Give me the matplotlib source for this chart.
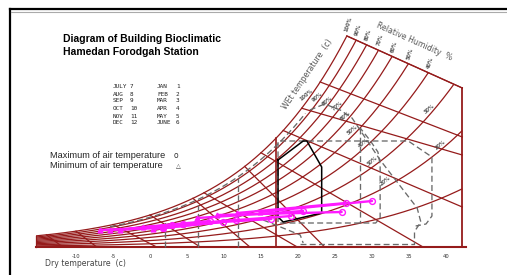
import numpy as np
import matplotlib
matplotlib.use("Agg")
import matplotlib.pyplot as plt

# ---------------- data ----------------
rh_levels = [1.0, 0.9, 0.8, 0.7, 0.6, 0.5, 0.4, 0.3, 0.2, 0.1]
rh_top_labels = ["100%", "90%", "80%", "70%", "60%", "50%", "40%"]
rh_diag_levels = [1.0, 0.9, 0.8, 0.7, 0.6, 0.5, 0.4, 0.3, 0.2, 0.3, 0.2]
rh_diag_T = [21.2, 22.6, 23.9, 25.3, 26.4, 27.4, 28.8, 30.1, 31.8, 37.8, 39.2]

x_ticks = [-10, -5, 0, 5, 10, 15, 20, 25, 30, 35, 40]

# wet-bulb style lines: start temperature on saturation curve, end point
wb_start_T = [26.6, 23.0, 20.5, 18.0, 15.0, 12.8, 7.3, 5.8, 0.0, -5.0, -10.0, -14.0]
wb_end_T = [42.2, 42.2, 42.2, 42.2, 36.9, 23.6, 19.9, 13.5, 6.8, 0.9, -7.2, -11.8]
wb_end_h = [15.9, 11.0, 9.2, 4.0, 0.0, 0.0, 0.0, 0.0, 0.0, 0.0, 0.0, 0.0]

# comfort zone (black polygon)  (dry temp, humidity)
comfort_T = [17.3, 20.7, 21.2, 23.2, 23.2, 18.0, 17.3, 17.3]
comfort_h = [8.7, 10.6, 10.6, 8.0, 3.4, 2.5, 3.0, 8.7]

# grey dashed zones
zone1_T = [17.3, 17.3, 34.9, 38.1, 38.1, 37.3, 35.9]
zone1_h = [2.5, 10.6, 10.6, 9.0, 3.1, 2.3, 2.1]
zone1b_T = [20.3, 35.7, 35.7]
zone1b_h = [0.27, 0.27, 1.5]
zone2_T = [28.4, 28.4]
zone2_h = [11.9, 2.4]
zone2b_T = [17.6, 30.5, 31.1, 31.1, 30.8, 29.7, 28.4]
zone2b_h = [2.4, 2.4, 2.9, 8.2, 9.5, 10.7, 11.9]
zone3_T = [21.6, 23.6, 25.7, 27.3, 31.1, 36.1, 36.6, 35.7]
zone3_h = [13.7, 14.3, 13.7, 12.9, 8.7, 3.9, 2.5, 1.5]
zone4_T = [15.3, 20.3, 20.7]
zone4_h = [2.7, 1.2, 0.4]
zone_vert_T = [2.0, 6.5, 11.9]
zone_vert_h = [2.7, 4.2, 6.9]
zone_curve_rh = 0.93
zone_curve_T = [-5.4, 21.0]

# monthly data: min point (triangle) and max point (circle)
months = ["JAN", "FEB", "MAR", "APR", "MAY", "JUNE", "JULY", "AUG", "SEP", "OCT", "NOV", "DEC"]
t_min = [-6.8, -5.4, -0.9, 1.8, 4.5, 9.1, 14.9, 11.8, 6.4, 3.0, 0.4, -4.1]
h_min = [1.7, 1.7, 2.0, 1.9, 2.3, 3.2, 3.5, 3.4, 2.9, 2.2, 1.8, 1.7]
t_max = [1.8, 3.0, 8.1, 11.6, 19.1, 25.9, 30.0, 26.5, 20.7, 16.4, 9.9, 4.5]
h_max = [1.9, 2.2, 2.6, 2.7, 3.1, 3.5, 4.6, 4.4, 3.6, 2.8, 2.5, 2.3]

# ---------------- figure ----------------
W, H = 507, 275
fig = plt.figure(figsize=(W / 100, H / 100), dpi=100)
ax = fig.add_axes([0, 0, 1, 1])
ax.set_xlim((0 - 150) / 7.4, (W - 150) / 7.4)
ax.set_ylim((247 - H) / 10, 247 / 10)
ax.axis("off")

RED = "#951b1b"
GREY = "#6a6a6a"
MAG = "#ff1aff"

T_LEFT, T_RIGHT, T_TOP, H_CORNER = -15.4, 42.2, 26.6, 15.9


def sat(T):
    return 0.3 + 2.9 * np.exp(0.0794 * np.asarray(T) - 0.0002 * np.asarray(T) ** 2)


def top(T):
    s = (H_CORNER - sat(T_TOP)) / (T_RIGHT - T_TOP)
    return sat(T_TOP) + s * (np.asarray(T) - T_TOP)


Tg = np.linspace(T_LEFT, T_RIGHT, 4000)
rh_end = {}
for phi in rh_levels:
    h = phi * sat(Tg)
    lim = np.where(Tg <= T_TOP, np.inf, top(Tg))
    m = h <= lim
    ax.plot(Tg[m], h[m], color=RED, lw=0.9, solid_capstyle="butt", zorder=3)
    rh_end[phi] = Tg[m][-1]

# boundaries
Tt = np.array([T_TOP, T_RIGHT])
ax.plot(Tt, top(Tt), color=RED, lw=0.9, zorder=3)
ax.plot([T_RIGHT, T_RIGHT], [0, H_CORNER], color=RED, lw=1.3, zorder=3)
ax.plot([T_LEFT, T_LEFT], [0, sat(T_LEFT)], color=RED, lw=0.9, zorder=3)
ax.plot([T_LEFT, 42.7], [0, 0], color=RED, lw=1.5, zorder=3)
ax.plot([17.0, 17.0], [0, sat(17.0)], color=RED, lw=1.2, zorder=3)

# wet-bulb lines
for t0, t1, h1 in zip(wb_start_T, wb_end_T, wb_end_h):
    ax.plot([t0, t1], [sat(t0), h1], color=RED, lw=0.9, zorder=3)

# grey dashed zones
dkw = dict(color=GREY, lw=0.95, dashes=(4.5, 2.5), zorder=4)
for xs, ys in [(zone1_T, zone1_h), (zone1b_T, zone1b_h), (zone2_T, zone2_h),
               (zone2b_T, zone2b_h), (zone3_T, zone3_h), (zone4_T, zone4_h)]:
    ax.plot(xs, ys, **dkw)
for t, h in zip(zone_vert_T, zone_vert_h):
    ax.plot([t, t], [0, h], **dkw)
Tz = np.linspace(zone_curve_T[0], zone_curve_T[1], 200)
ax.plot(Tz, zone_curve_rh * sat(Tz), **dkw)

# comfort zone
ax.plot(comfort_T, comfort_h, color="black", lw=1.1, zorder=5)

# monthly lines
for a, b, c, d in zip(t_min, h_min, t_max, h_max):
    ax.plot([a, c], [b, d], color=MAG, lw=1.7, zorder=6, solid_capstyle="round")
    ax.plot([c], [d], marker="o", ms=4.2, mfc="none", mec=MAG, mew=1.0, zorder=7)
    ax.plot([a], [b], marker="^", ms=3.5, mfc=MAG, mec=MAG, zorder=7)

# RH labels along top boundary
for phi, lab in zip(rh_levels, rh_top_labels):
    t = rh_end[phi]
    ax.annotate(lab, (t, top(t)), xytext=(1.5, 2.5), textcoords="offset points",
                rotation=72, fontsize=3.6, color="#555555", ha="center", va="bottom",
                fontweight="bold")
# RH labels inside the chart
for phi, t in zip(rh_diag_levels, rh_diag_T):
    ax.text(t, phi * sat(t), f"{int(round(phi * 100))}%", rotation=40, fontsize=3.6,
            color="#555555", ha="center", va="bottom", fontweight="bold", zorder=5)

# x tick labels
for t in x_ticks:
    ax.text(t, -1.0, str(t), fontsize=3.8, color="#333333", ha="center", va="center")


def fx(px):
    return px / W


def fy(py):
    return 1 - py / H


fig.text(fx(45), fy(263), "Dry temperature  (c)", fontsize=5.6, color="#444444",
         va="center", ha="left")
fig.text(fx(307), fy(74), "WEt temperature  (c)", fontsize=5.6, color="#555555",
         rotation=56, ha="center", va="center")
fig.text(fx(414), fy(42), "Relative Humidity  %", fontsize=5.6, color="#555555",
         rotation=-24, ha="center", va="center")

# title
fig.text(fx(63), fy(39), "Diagram of Building Bioclimatic", fontsize=7.5,
         fontweight="bold", family="Liberation Sans", va="center", ha="left")
fig.text(fx(63), fy(52), "Hamedan Forodgah Station", fontsize=7.5,
         fontweight="bold", family="Liberation Sans", va="center", ha="left")

# month key
rows_y = [87, 94, 101, 108, 116, 123]
for i, y in enumerate(rows_y):
    fig.text(fx(113), fy(y), months[6 + i], fontsize=4.3, family="DejaVu Sans Mono",
             va="center", ha="left", color="#222222")
    fig.text(fx(130), fy(y), str(7 + i), fontsize=4.3, family="DejaVu Sans Mono",
             va="center", ha="left", color="#222222")
    fig.text(fx(157), fy(y), months[i], fontsize=4.3, family="DejaVu Sans Mono",
             va="center", ha="left", color="#222222")
    fig.text(fx(176), fy(y), str(1 + i), fontsize=4.3, family="DejaVu Sans Mono",
             va="center", ha="left", color="#222222")

# legend
fig.text(fx(50), fy(155), "Maximum of air temperature", fontsize=6.6,
         family="Liberation Sans", va="center", ha="left", color="#222222")
fig.text(fx(50), fy(165.5), "Minimum of air temperature", fontsize=6.6,
         family="Liberation Sans", va="center", ha="left", color="#222222")
fig.text(fx(176), fy(155), "o", fontsize=5.5, va="center", ha="center", color="#333333")
fig.text(fx(178), fy(166), "\u25b3", fontsize=4.5, va="center", ha="center", color="#333333")

# frame
ax.plot([fx(10), fx(10)], [fy(9), 0], transform=ax.transAxes, color="black", lw=1.6,
        clip_on=False)
ax.plot([fx(10), 1], [fy(9), fy(9)], transform=ax.transAxes, color="black", lw=1.6,
        clip_on=False)
ax.plot([fx(11), 1], [fy(11.5), fy(11.5)], transform=ax.transAxes, color="#aaaaaa",
        lw=0.8, clip_on=False)

fig.savefig("out.png", dpi=100)
